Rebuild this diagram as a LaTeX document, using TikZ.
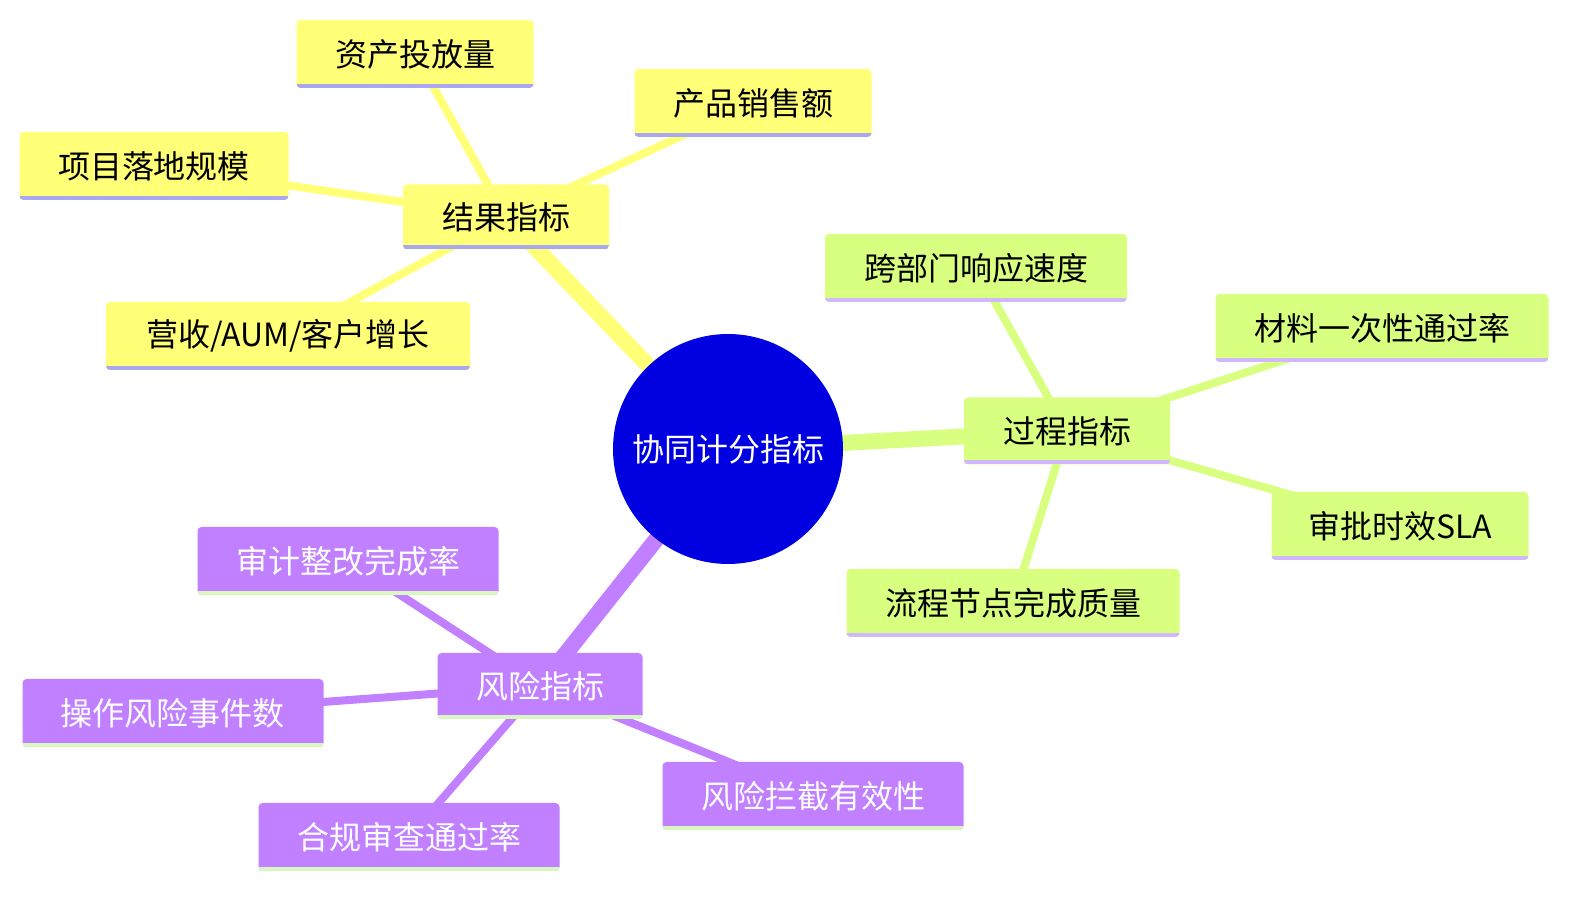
\documentclass[tikz,border=0pt]{standalone}
\usepackage{fontspec}
\setmainfont{Noto Sans CJK SC}
\usetikzlibrary{backgrounds}
\definecolor{yel}{HTML}{FFFF78}
\definecolor{grn}{HTML}{D9FF80}
\definecolor{pur}{HTML}{C080FF}
\definecolor{ulb}{HTML}{A8A8F0}
\definecolor{ulp}{HTML}{D0B8FF}
\definecolor{ulg}{HTML}{D8F8C0}
\definecolor{rootc}{HTML}{0000E0}
\tikzset{
 bx/.style 2 args={rectangle,rounded corners=2pt,minimum width=#1*0.5pt,minimum height=#2*0.5pt,inner sep=0pt,font=\fontsize{16}{19}\selectfont},
 ul/.style={path picture={\draw[line width=2pt,#1] ([yshift=1pt]path picture bounding box.south west)--([yshift=1pt]path picture bounding box.south east);}},
 yb/.style={fill=yel,ul=ulb},
 gb/.style={fill=grn,ul=ulp},
 pb/.style={fill=pur,ul=ulg,text=white},
 main/.style={line width=8pt,#1},
 leaf/.style={line width=4pt,#1}
}
\begin{document}
\begin{tikzpicture}[x=0.5pt,y=-0.5pt]
\useasboundingbox (0,0) rectangle (1581,897);
\node[circle,fill=rootc,minimum size=115pt,text=white,font=\fontsize{16}{19}\selectfont] (root) at (728,449) {协同计分指标};
\node[bx={206}{65},yb] (r) at (506,217) {结果指标};
\node[bx={237}{68},yb] (r1) at (415,54) {资产投放量};
\node[bx={237}{68},yb] (r2) at (753,103) {产品销售额};
\node[bx={269}{68},yb] (r3) at (154,166) {项目落地规模};
\node[bx={364}{68},yb] (r4) at (288,336) {营收/AUM/客户增长};
\node[bx={206}{67},gb] (p) at (1067,431) {过程指标};
\node[bx={302}{68},gb] (p1) at (976,268) {跨部门响应速度};
\node[bx={333}{68},gb] (p2) at (1382,328) {材料一次性通过率};
\node[bx={257}{68},gb] (p3) at (1400,526) {审批时效SLA};
\node[bx={333}{68},gb] (p4) at (1013,603) {流程节点完成质量};
\node[bx={205}{66},pb] (k) at (540,686) {风险指标};
\node[bx={301}{68},pb] (k1) at (348,561) {审计整改完成率};
\node[bx={301}{68},pb] (k2) at (173,713) {操作风险事件数};
\node[bx={301}{68},pb] (k3) at (409,837) {合规审查通过率};
\node[bx={301}{68},pb] (k4) at (813,796) {风险拦截有效性};
\begin{scope}[on background layer]
\draw[main=yel] (root.center)--(r.center);
\draw[main=grn] (root.center)--(p.center);
\draw[main=pur] (root.center)--(k.center);
\foreach \n in {r1,r2,r3,r4} \draw[leaf=yel] (r.center)--(\n.center);
\foreach \n in {p1,p2,p3,p4} \draw[leaf=grn] (p.center)--(\n.center);
\foreach \n in {k1,k2,k3,k4} \draw[leaf=pur] (k.center)--(\n.center);
\end{scope}
\end{tikzpicture}
\end{document}
